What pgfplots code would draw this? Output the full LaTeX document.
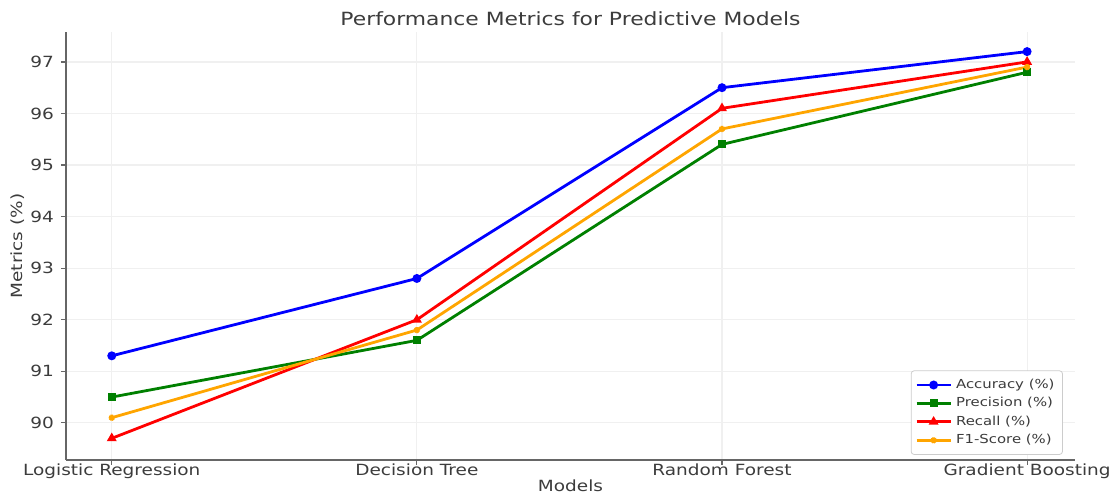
\documentclass[border=0pt]{standalone}
\usepackage{pgfplots}
\pgfplotsset{compat=1.18}
\usepackage{fontspec}
\setmainfont[FakeStretch=1.2]{DejaVu Sans}
\definecolor{mgreen}{RGB}{0,128,0}
\definecolor{morange}{RGB}{255,165,0}
\definecolor{txt}{RGB}{60,60,60}
\begin{document}
\begin{tikzpicture}
\begin{axis}[
  width=504.5pt, height=214pt, scale only axis,
  xmin=-0.15, xmax=3.157,
  ymin=89.28, ymax=97.58,
  xtick={0,1,2,3},
  xticklabels={Logistic Regression,Decision Tree,Random Forest,Gradient Boosting},
  ytick={90,91,92,93,94,95,96,97},
  /pgf/number format/assume math mode=true,
  tick label style={font=\fontsize{7.7}{9}\selectfont, text=txt},
  xticklabel style={yshift=4pt},
  axis x line*=bottom, axis y line*=left,
  axis line style={gray!80!black, line width=0.8pt},
  tick style={gray!80!black, line width=0.6pt},
  tick align=outside, major tick length=2.5pt,
  grid=major, grid style={gray!12, line width=0.6pt},
  xlabel={Models}, ylabel={Metrics (\%)},
  label style={font=\fontsize{7.7}{9}\selectfont, text=txt},
  xlabel style={yshift=6.5pt},
  ylabel style={yshift=-4pt},
  title={Performance Metrics for Predictive Models},
  title style={font=\fontsize{9.1}{10}\selectfont, text=txt, yshift=-6.5pt},
  legend style={at={(0.988,0.012)}, anchor=south east, font=\fontsize{6.2}{7.5}\selectfont, text=txt, draw=gray!40, rounded corners=1.5pt, row sep=-1pt, inner sep=2pt},
  legend cell align=left,
  every axis plot/.append style={line width=1.4pt},
  mark size=1.5pt,
]
\addplot[blue, mark=*] coordinates {(0,91.3) (1,92.8) (2,96.5) (3,97.2)};
\addlegendentry{Accuracy (\%)}
\addplot[mgreen, mark=square*, mark size=1.3pt] coordinates {(0,90.5) (1,91.6) (2,95.4) (3,96.8)};
\addlegendentry{Precision (\%)}
\addplot[red, mark=triangle*] coordinates {(0,89.7) (1,92.0) (2,96.1) (3,97.0)};
\addlegendentry{Recall (\%)}
\addplot[morange, mark=star] coordinates {(0,90.1) (1,91.8) (2,95.7) (3,96.9)};
\addlegendentry{F1-Score (\%)}
\coordinate (sw) at (rel axis cs:0,0);
\coordinate (ne) at (rel axis cs:1,1);
\end{axis}
\pgfresetboundingbox
\path (sw) ++(-33pt,-18.5pt) rectangle ([shift={(20pt,16pt)}]ne);
\end{tikzpicture}
\end{document}
